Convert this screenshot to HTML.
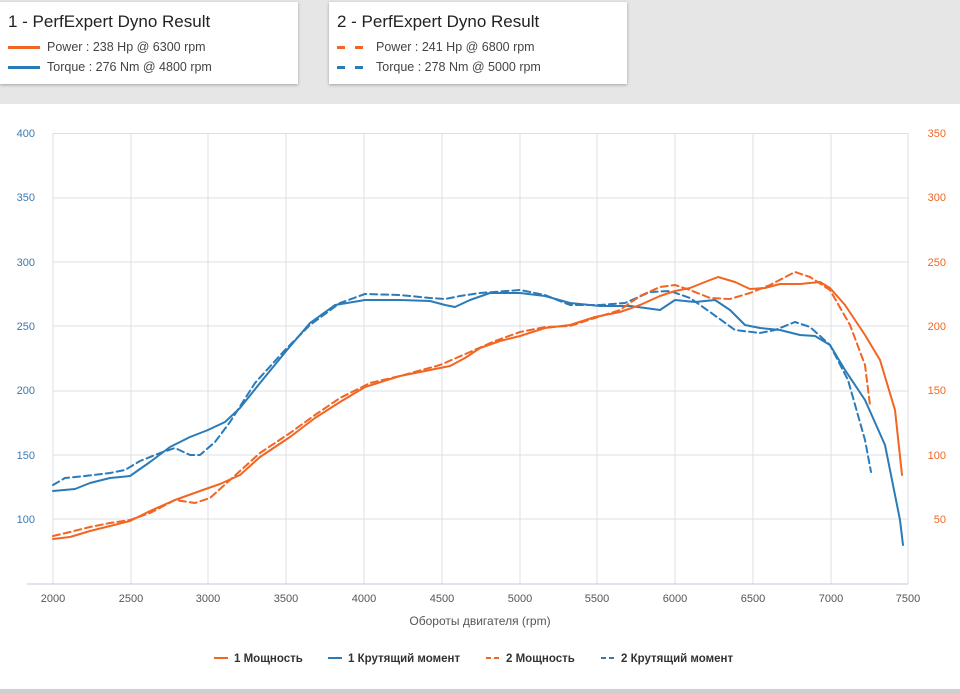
<!DOCTYPE html><html><head><meta charset="utf-8"><style>
body{margin:0;width:960px;height:694px;overflow:hidden;background:#fff;font-family:"Liberation Sans",sans-serif}
.top{position:absolute;left:0;top:0;width:960px;height:104px;background:#e6e6e6}
.bot{position:absolute;left:0;top:689px;width:960px;height:5px;background:#cfcfcf}
.box{position:absolute;top:2px;width:298px;height:82px;background:#fff;box-shadow:0 1px 3px rgba(0,0,0,.3)}
.box h1{margin:0;position:absolute;left:8px;top:10px;font-size:17px;font-weight:normal;color:#222}
.row{position:absolute;left:8px;font-size:12.5px;color:#444}
.sw{display:inline-block;width:32px;height:3px;vertical-align:middle;margin-right:7px}
</style></head><body>
<div class="top"></div><div class="bot"></div>
<div class="box" style="left:0"><h1>1 - PerfExpert Dyno Result</h1>
<div class="row" style="top:38px"><span class="sw" style="background:#f26522"></span>Power : 238 Hp @ 6300 rpm</div>
<div class="row" style="top:58px"><span class="sw" style="background:#2b7bb9"></span>Torque : 276 Nm @ 4800 rpm</div></div>
<div class="box" style="left:329px"><h1>2 - PerfExpert Dyno Result</h1>
<div class="row" style="top:38px"><span class="sw" style="background:repeating-linear-gradient(90deg,#f26522 0 8px,transparent 8px 18px)"></span>Power : 241 Hp @ 6800 rpm</div>
<div class="row" style="top:58px"><span class="sw" style="background:repeating-linear-gradient(90deg,#2b7bb9 0 8px,transparent 8px 18px)"></span>Torque : 278 Nm @ 5000 rpm</div></div>
<svg style="position:absolute;left:0;top:0" width="960" height="694" font-family="Liberation Sans, sans-serif" font-size="11">
<g stroke="#dcdfe6" stroke-width="1">
<line x1="53" y1="133.5" x2="908" y2="133.5"/><line x1="53" y1="198" x2="908" y2="198"/><line x1="53" y1="262" x2="908" y2="262"/><line x1="53" y1="326" x2="908" y2="326"/><line x1="53" y1="391" x2="908" y2="391"/><line x1="53" y1="455" x2="908" y2="455"/><line x1="53" y1="519" x2="908" y2="519"/>
<line x1="53" y1="133" x2="53" y2="584"/><line x1="131" y1="133" x2="131" y2="584"/><line x1="208" y1="133" x2="208" y2="584"/><line x1="286" y1="133" x2="286" y2="584"/><line x1="364" y1="133" x2="364" y2="584"/><line x1="442" y1="133" x2="442" y2="584"/><line x1="520" y1="133" x2="520" y2="584"/><line x1="597" y1="133" x2="597" y2="584"/><line x1="675" y1="133" x2="675" y2="584"/><line x1="753" y1="133" x2="753" y2="584"/><line x1="831" y1="133" x2="831" y2="584"/><line x1="908" y1="133" x2="908" y2="584"/>
</g>
<line x1="27" y1="584" x2="908" y2="584" stroke="#c0c8d8"/>
<g fill="#3a7ab0" text-anchor="end"><text x="35" y="137">400</text><text x="35" y="201">350</text><text x="35" y="266">300</text><text x="35" y="330">250</text><text x="35" y="394">200</text><text x="35" y="459">150</text><text x="35" y="523">100</text></g>
<g fill="#f26522" text-anchor="end"><text x="946" y="137">350</text><text x="946" y="201">300</text><text x="946" y="266">250</text><text x="946" y="330">200</text><text x="946" y="394">150</text><text x="946" y="459">100</text><text x="946" y="523">50</text></g>
<g fill="#555" text-anchor="middle"><text x="53" y="602">2000</text><text x="131" y="602">2500</text><text x="208" y="602">3000</text><text x="286" y="602">3500</text><text x="364" y="602">4000</text><text x="442" y="602">4500</text><text x="520" y="602">5000</text><text x="597" y="602">5500</text><text x="675" y="602">6000</text><text x="753" y="602">6500</text><text x="831" y="602">7000</text><text x="908" y="602">7500</text>
<text x="480" y="625" font-size="12">Обороты двигателя (rpm)</text></g>
<g fill="none" stroke-width="2" stroke-linejoin="round" stroke-linecap="round">
<polyline stroke="#2b7bb9" points="53,491 75,489 90,483 110,478 130,476 150,462 170,447 190,437 208,430 225,422 240,408 260,383 287,350 310,323 335,305 365,300 400,300 430,301 445,305 455,307 470,300 490,293 520,293 545,296 570,303 600,306 630,306 660,310 675,300 695,302 715,300 730,310 745,325 760,328 780,330 800,335 815,336 830,345 845,370 865,400 885,445 900,520 903,545"/>
<polyline stroke="#2b7bb9" stroke-dasharray="7,4" points="53,485 65,478 85,476 110,473 125,470 140,461 160,453 175,448 190,455 200,455 215,442 230,422 255,383 285,350 310,325 340,303 365,294 400,295 430,298 445,299 460,296 480,293 520,290 545,295 570,305 600,305 625,303 650,292 670,291 690,298 710,312 735,330 760,333 775,330 795,322 810,327 830,345 848,380 865,440 871,472"/>
<polyline stroke="#f26522" points="53,539 70,537 90,531 110,526 130,521 150,511 175,500 200,491 220,484 240,475 260,457 290,437 315,418 340,402 365,387 400,376 430,370 450,366 465,358 480,348 500,341 520,336 545,328 570,325 595,317 620,312 640,305 660,296 675,291 690,288 705,282 718,277 735,282 750,289 765,288 780,284 800,284 820,282 830,288 845,305 865,335 880,360 895,410 902,475"/>
<polyline stroke="#f26522" stroke-dasharray="7,4" points="53,536 70,532 90,527 110,523 130,520 150,513 175,500 195,503 210,498 230,480 260,453 290,433 315,415 340,398 370,383 400,376 440,365 470,352 495,341 520,332 545,327 570,326 595,318 620,310 640,296 660,287 675,285 690,290 710,298 730,299 750,293 770,285 795,272 810,277 830,290 850,325 865,365 870,405"/>
</g>
<g font-size="11.5" font-weight="bold" fill="#333">
<line x1="214" y1="658" x2="228" y2="658" stroke="#f26522" stroke-width="2"/><text x="234" y="662">1 Мощность</text>
<line x1="328" y1="658" x2="342" y2="658" stroke="#2b7bb9" stroke-width="2"/><text x="348" y="662">1 Крутящий момент</text>
<line x1="486" y1="658" x2="500" y2="658" stroke="#f26522" stroke-width="2" stroke-dasharray="5,3"/><text x="506" y="662">2 Мощность</text>
<line x1="601" y1="658" x2="615" y2="658" stroke="#2b7bb9" stroke-width="2" stroke-dasharray="5,3"/><text x="621" y="662">2 Крутящий момент</text>
</g></svg>
</body></html>
